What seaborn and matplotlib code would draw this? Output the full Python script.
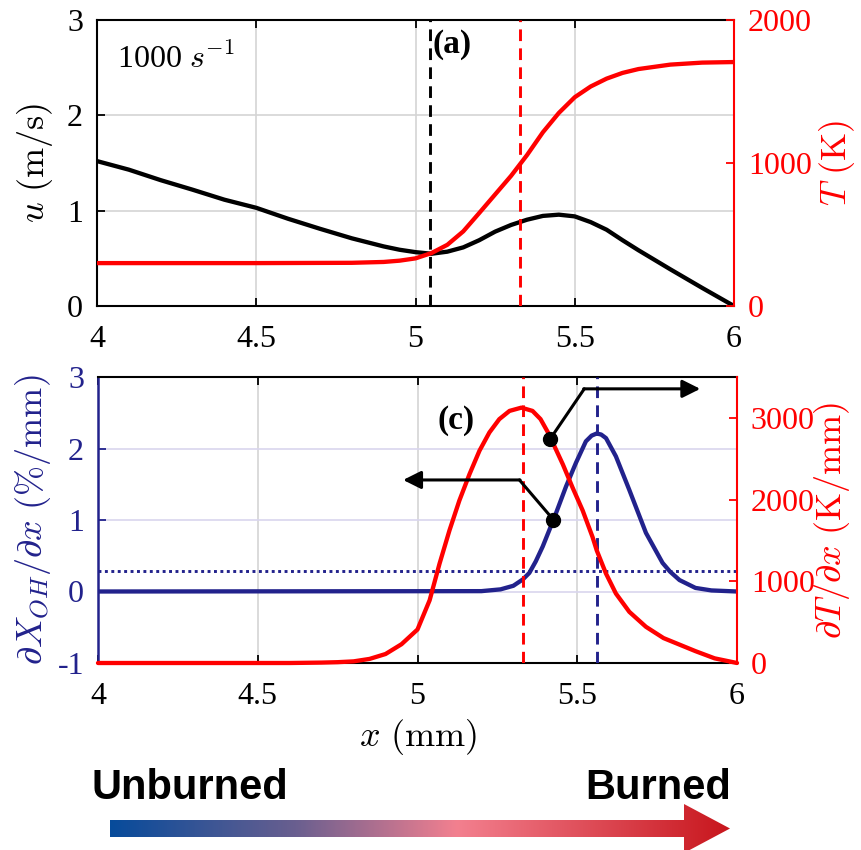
import numpy as np
import pandas as pd
import matplotlib
matplotlib.use("Agg")
import matplotlib.pyplot as plt
import seaborn as sns
from matplotlib.colors import LinearSegmentedColormap
from matplotlib.patches import Polygon

# ---------------- data ----------------
x_u = [4.0, 4.1, 4.2, 4.3, 4.4, 4.5, 4.6, 4.7, 4.8, 4.9, 4.95, 5.0, 5.05, 5.1, 5.15,
       5.2, 5.25, 5.3, 5.35, 5.4, 5.45, 5.5, 5.55, 5.6, 5.65, 5.7, 5.8, 5.9, 6.0]
u_vals = [1.52, 1.43, 1.32, 1.22, 1.115, 1.03, 0.915, 0.81, 0.71, 0.625, 0.59, 0.565, 0.548,
          0.57, 0.615, 0.69, 0.78, 0.85, 0.905, 0.945, 0.958, 0.94, 0.88, 0.80, 0.69,
          0.585, 0.385, 0.19, 0.0]

x_T = [4.0, 4.5, 4.8, 4.9, 4.95, 5.0, 5.05, 5.1, 5.15, 5.2, 5.25, 5.3, 5.35, 5.4, 5.45,
       5.5, 5.55, 5.6, 5.65, 5.7, 5.8, 5.9, 6.0]
T_vals = [300, 300, 302, 308, 317, 333, 370, 428, 522, 650, 780, 910, 1055, 1215, 1350,
          1460, 1535, 1590, 1630, 1657, 1688, 1702, 1706]

x_dT = [4.0, 4.6, 4.7, 4.75, 4.8, 4.85, 4.9, 4.95, 5.0, 5.038, 5.069, 5.1, 5.131, 5.163,
        5.194, 5.225, 5.256, 5.288, 5.325, 5.36, 5.385, 5.41, 5.455, 5.485, 5.517, 5.548,
        5.561, 5.59, 5.621, 5.663, 5.715, 5.77, 5.82, 5.87, 5.93, 6.0]
dT_vals = [0, 0, 5, 10, 20, 50, 110, 230, 410, 768, 1216, 1622, 1988, 2313,
           2598, 2821, 2984, 3085, 3125, 3085, 2985, 2810, 2430, 2150, 1866, 1540,
           1378, 1094, 850, 626, 443, 305, 225, 145, 57, 0]

x_oh = [4.0, 5.2, 5.26, 5.3, 5.33, 5.35, 5.37, 5.392, 5.428, 5.465, 5.496, 5.527, 5.545,
        5.561, 5.575, 5.59, 5.621, 5.663, 5.715, 5.767, 5.79, 5.82, 5.87, 5.92, 6.0]
oh_vals = [0.0, 0.005, 0.03, 0.08, 0.17, 0.26, 0.42, 0.63, 1.03, 1.47, 1.80, 2.10, 2.18,
           2.21, 2.195, 2.145, 1.89, 1.42, 0.82, 0.40, 0.28, 0.16, 0.05, 0.015, 0.0]

x_ticks = [4, 4.5, 5, 5.5, 6]
x_tick_labels = ["4", "4.5", "5", "5.5", "6"]
u_ticks = [0, 1, 2, 3]
T_ticks = [0, 1000, 2000]
oh_ticks = [-1, 0, 1, 2, 3]
dT_ticks = [0, 1000, 2000, 3000]

x_u_min = 5.046      # black dashed marker (velocity minimum)
x_dT_peak = 5.329    # red dashed marker (max temperature gradient)
x_oh_peak = 5.561    # blue dashed marker (max OH gradient)
oh_level = 0.285     # dotted threshold

# ---------------- style ----------------
sns.set_style("white")
plt.rcParams["font.family"] = ["Liberation Serif", "DejaVu Sans"]
plt.rcParams["mathtext.fontset"] = "cm"
plt.rcParams["axes.unicode_minus"] = False
plt.rcParams["text.color"] = "black"
plt.rcParams["axes.labelcolor"] = "black"
plt.rcParams["xtick.color"] = "black"
plt.rcParams["ytick.color"] = "black"

RED = "#ff0000"
NAVY = "#22228c"
GRID = "#d4d4d4"
TICK_FS = 23
LAB_FS = 26
LW = 3.1

fig = plt.figure(figsize=(8.61, 8.5), dpi=100)
ax1 = fig.add_axes([97 / 861, 1 - 306 / 850, 637 / 861, 286 / 850])
ax1r = ax1.twinx()
ax2 = fig.add_axes([98 / 861, 1 - 663 / 850, 639 / 861, 286 / 850])
ax2r = ax2.twinx()

# ---------------- top panel ----------------
sns.lineplot(x=x_u, y=u_vals, ax=ax1, color="black", lw=LW, estimator=None, sort=False)
sns.lineplot(x=x_T, y=T_vals, ax=ax1r, color=RED, lw=LW, estimator=None, sort=False)
ax1.axvline(x_u_min, color="black", lw=2.1, ls=(0, (4, 2.5)), zorder=3)
ax1.axvline(x_dT_peak, color=RED, lw=2.1, ls=(0, (4, 2.5)), zorder=3)

ax1.set_xlim(4, 6)
ax1.set_ylim(0, 3)
ax1r.set_ylim(0, 2000)
ax1.set_xticks(x_ticks)
ax1.set_xticklabels(x_tick_labels)
ax1.set_yticks(u_ticks)
ax1r.set_yticks(T_ticks)
ax1.grid(True, color=GRID, lw=1.2)
ax1.set_axisbelow(True)

ax1.set_ylabel(r"$u\ \mathrm{(m/s)}$", fontsize=LAB_FS, color="black")
ax1r.set_ylabel(r"$T\ \mathrm{(K)}$", fontsize=LAB_FS, color=RED)
ax1.yaxis.set_label_coords(-0.066, 0.5)
ax1r.yaxis.set_label_coords(1.13, 0.5)

ax1.text(4.063, 2.59, r"1000 $s^{-1}$", fontsize=23, ha="left", va="center",
         color="black")
ax1.text(5.116, 2.74, "(a)", fontsize=24, fontweight="bold", ha="center", va="center",
         color="black")

# ---------------- bottom panel ----------------
sns.lineplot(x=x_oh, y=oh_vals, ax=ax2, color=NAVY, lw=LW, estimator=None, sort=False)
ax2.axhline(oh_level, color=NAVY, lw=2.1, ls=(0, (1, 1.2)))
ax2.axvline(x_oh_peak, color=NAVY, lw=2.1, ls=(0, (4, 2.5)), zorder=3)
sns.lineplot(x=x_dT, y=dT_vals, ax=ax2r, color=RED, lw=LW, estimator=None, sort=False,
             clip_on=False)
ax2r.axvline(x_dT_peak, color=RED, lw=2.1, ls=(0, (4, 2.5)), zorder=3)

ax2.set_xlim(4, 6)
ax2.set_ylim(-1, 3)
ax2r.set_ylim(0, 3500)
ax2.set_xticks(x_ticks)
ax2.set_xticklabels(x_tick_labels)
ax2.set_yticks(oh_ticks)
ax2r.set_yticks(dT_ticks)
ax2.xaxis.grid(True, color=GRID, lw=1.2)
ax2.yaxis.grid(True, color="#d9d6ee", lw=1.2)
ax2.set_axisbelow(True)

ax2.set_ylabel(r"$\partial X_{OH}/\partial x\ \mathrm{(\%/mm)}$", fontsize=LAB_FS, color=NAVY)
ax2r.set_ylabel(r"$\partial T/\partial x\ \mathrm{(K/mm)}$", fontsize=LAB_FS, color=RED)
ax2.yaxis.set_label_coords(-0.07, 0.5)
ax2r.yaxis.set_label_coords(1.118, 0.5)
ax2.set_xlabel(r"$x\ \mathrm{(mm)}$", fontsize=LAB_FS, color="black")
ax2.xaxis.set_label_coords(0.5, -0.19)

ax2.text(5.122, 2.39, "(c)", fontsize=24, fontweight="bold", ha="center", va="center",
         color="black")

# annotation arrows (point to the axis of each curve)
ax2r.set_zorder(ax2.get_zorder() + 1)
ax2r.plot([5.415, 5.522], [2740, 3355], color="black", lw=2.2, zorder=6)
ax2r.plot([5.415], [2740], "o", color="black", ms=10, zorder=6)
ax2r.annotate("", xy=(5.885, 3355), xytext=(5.52, 3355),
              arrowprops=dict(arrowstyle="-|>", color="black", lw=2.2,
                              mutation_scale=27, shrinkA=0, shrinkB=0), zorder=6)
ax2r.plot([5.425, 5.319], [1755, 2240], color="black", lw=2.2, zorder=6)
ax2r.plot([5.425], [1755], "o", color="black", ms=10, zorder=6)
ax2r.annotate("", xy=(4.955, 2240), xytext=(5.321, 2240),
              arrowprops=dict(arrowstyle="-|>", color="black", lw=2.2,
                              mutation_scale=27, shrinkA=0, shrinkB=0), zorder=6)

# ---------------- axes styling ----------------
for ax in (ax1, ax2):
    ax.tick_params(axis="x", direction="in", length=6, width=1.3, labelsize=TICK_FS,
                   top=True, bottom=True, pad=14, colors="black")
    for s in ("top", "bottom"):
        ax.spines[s].set_color("black")
        ax.spines[s].set_linewidth(1.5)
    ax.spines["right"].set_visible(False)
for axr in (ax1r, ax2r):
    axr.spines["left"].set_visible(False)
    axr.spines["top"].set_visible(False)
    axr.spines["bottom"].set_visible(False)
    axr.spines["right"].set_color(RED)
    axr.spines["right"].set_linewidth(1.5)
    axr.tick_params(axis="y", direction="in", length=6, width=1.3, labelsize=TICK_FS,
                    colors=RED, pad=10)
    axr.set_xlabel("")

ax1.tick_params(axis="y", direction="in", length=6, width=1.3, labelsize=TICK_FS,
                colors="black", pad=10, right=False)
ax1.spines["left"].set_color("black")
ax1.spines["left"].set_linewidth(1.5)
ax2.tick_params(axis="y", direction="in", length=6, width=1.3, labelsize=TICK_FS,
                colors=NAVY, pad=10, right=False)
ax2.spines["left"].set_color(NAVY)
ax2.spines["left"].set_linewidth(1.8)

# ---------------- gradient "Unburned -> Burned" arrow ----------------
axo = fig.add_axes([0, 0, 1, 1], zorder=10)
axo.set_xlim(0, 861)
axo.set_ylim(850, 0)
axo.axis("off")
cmap = LinearSegmentedColormap.from_list(
    "burn", [(0.0, "#074b9b"), (0.3, "#6a5f8f"), (0.56, "#f3808f"), (1.0, "#c8161d")])
grad = np.linspace(0, 1, 256)[None, :]
im = axo.imshow(grad, extent=[110, 730, 853, 804], cmap=cmap, aspect="auto",
                interpolation="bilinear")
arrow_poly = Polygon([[110, 820], [684, 820], [684, 804], [730, 828.5], [684, 853],
                      [684, 837], [110, 837]], closed=True, facecolor="none",
                     edgecolor="none", transform=axo.transData)
axo.add_patch(arrow_poly)
im.set_clip_path(arrow_poly)
axo.text(92, 799, "Unburned", fontsize=30, fontweight="bold", family="Liberation Sans",
         ha="left", va="baseline", color="black")
axo.text(731, 799, "Burned", fontsize=30, fontweight="bold", family="Liberation Sans",
         ha="right", va="baseline", color="black")

fig.savefig("out.png", dpi=100)
